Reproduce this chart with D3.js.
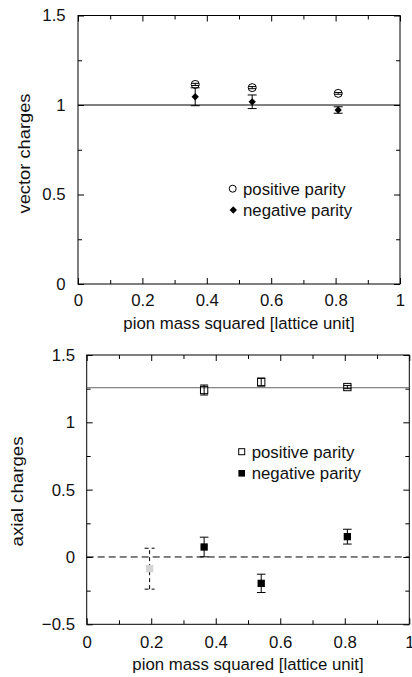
<!DOCTYPE html>
<html lang="en">
<head>
  <meta charset="UTF-8" />
  <title>vector and axial charges</title>
  <style>
    html, body {
      margin: 0;
      padding: 0;
      background: #fff;
    }
    svg {
      display: block;
      font-family: "Liberation Sans", Arial, sans-serif;
    }
    .tick text {
      font-size: 16.8px;
      fill: #111;
    }
  </style>
</head>
<body>
<svg id="chart" width="412" height="677"></svg>

<script src="https://cdn.jsdelivr.net/npm/d3@7"></script>
<script>
  // data
  const pionMass2 = [0.364, 0.541, 0.808];

  const vectorPos = [1.115, 1.097, 1.065];
  const vectorPosErr = [0.006, 0.006, 0.005];
  const vectorNeg = [1.046, 1.018, 0.972];
  const vectorNegErr = [0.05, 0.038, 0.018];

  const axialPos = [1.240, 1.299, 1.262];
  const axialPosErr = [0.037, 0.03, 0.012];
  const axialNeg = [0.074, -0.196, 0.151];
  const axialNegErr = [0.073, 0.068, 0.055];

  // grey point (dashed error bar)
  const extraX = [0.195];
  const extraY = [-0.087];
  const extraErr = [0.152];

  const vectorRef = 1.0;
  const axialRef = 1.257;

  const xTicks = [0, 0.2, 0.4, 0.6, 0.8, 1];
  const xMinor = [0.1, 0.3, 0.5, 0.7, 0.9];
  const yTicksTop = [0, 0.5, 1, 1.5];
  const yMinorTop = [0.25, 0.75, 1.25];
  const yTicksBottom = [-0.5, 0, 0.5, 1, 1.5];
  const yMinorBottom = [-0.25, 0.25, 0.75, 1.25];

  const svg = d3.select("#chart");
  const fmt = d3.format("");

  function panel(opts) {
    const { left, right, top, bottom } = opts.box;
    const x = d3.scaleLinear().domain([0, 1]).range([left, right]);
    const y = d3.scaleLinear().domain(opts.yDomain).range([bottom, top]);
    const g = svg.append("g");

    // ticks on all four sides, pointing inward
    const addAxis = (axis, tx, ty) => {
      const a = g.append("g").attr("transform", `translate(${tx},${ty})`).call(axis);
      a.select(".domain").remove();
      a.selectAll("line").attr("stroke", "#000");
      return a;
    };
    addAxis(d3.axisBottom(x).tickValues(xTicks).tickSize(-6).tickPadding(opts.xPad).tickFormat(fmt), 0, bottom);
    addAxis(d3.axisBottom(x).tickValues(xMinor).tickSize(-4).tickFormat(""), 0, bottom);
    addAxis(d3.axisTop(x).tickValues(xTicks).tickSize(-6).tickFormat(""), 0, top);
    addAxis(d3.axisTop(x).tickValues(xMinor).tickSize(-4).tickFormat(""), 0, top);
    addAxis(d3.axisLeft(y).tickValues(opts.yTicks).tickSize(-6).tickPadding(opts.yPad).tickFormat(fmt), left, 0);
    addAxis(d3.axisLeft(y).tickValues(opts.yMinor).tickSize(-4).tickFormat(""), left, 0);
    addAxis(d3.axisRight(y).tickValues(opts.yTicks).tickSize(-6).tickFormat(""), right, 0);
    addAxis(d3.axisRight(y).tickValues(opts.yMinor).tickSize(-4).tickFormat(""), right, 0);

    g.append("rect")
      .attr("x", left).attr("y", top)
      .attr("width", right - left).attr("height", bottom - top)
      .attr("fill", "none").attr("stroke", "#000").attr("stroke-width", 1);

    // axis titles
    g.append("text")
      .attr("x", (left + right) / 2)
      .attr("y", opts.xLabelY)
      .attr("text-anchor", "middle")
      .attr("font-size", "16.8px")
      .attr("fill", "#111")
      .text("pion mass squared [lattice unit]");

    g.append("text")
      .attr("transform", `translate(${opts.yLabel.x},${opts.yLabel.y}) rotate(-90)`)
      .attr("text-anchor", "middle")
      .attr("font-size", "17px")
      .attr("textLength", opts.yLabel.len)
      .attr("lengthAdjust", "spacingAndGlyphs")
      .attr("fill", "#111")
      .text(opts.yLabel.text);

    return { g, x, y };
  }

  function errorBars(p, xs, ys, errs, cap, dash) {
    const bars = p.g.append("g")
      .attr("stroke", "#000")
      .attr("stroke-width", 1)
      .attr("stroke-dasharray", dash || null);
    xs.forEach((xv, i) => {
      const cx = p.x(xv), y0 = p.y(ys[i] - errs[i]), y1 = p.y(ys[i] + errs[i]);
      bars.append("line").attr("x1", cx).attr("x2", cx).attr("y1", y0).attr("y2", y1);
      bars.append("line").attr("x1", cx - cap).attr("x2", cx + cap).attr("y1", y0).attr("y2", y0);
      bars.append("line").attr("x1", cx - cap).attr("x2", cx + cap).attr("y1", y1).attr("y2", y1);
    });
  }

  function refLine(p, value, color, dash) {
    p.g.append("line")
      .attr("x1", p.x(0)).attr("x2", p.x(1))
      .attr("y1", p.y(value)).attr("y2", p.y(value))
      .attr("stroke", color)
      .attr("stroke-width", 1)
      .attr("stroke-dasharray", dash || null);
  }

  const diamond = d3.symbol().type(d3.symbolDiamond2).size(34);

  // ---------- top panel: vector charges ----------
  const vecPanel = panel({
    box: { left: 78, right: 400, top: 15.5, bottom: 284 },
    yDomain: [0, 1.5],
    yTicks: yTicksTop,
    yMinor: yMinorTop,
    xPad: 10,
    yPad: 12.3,
    xLabelY: 329,
    yLabel: { x: 30, y: 153.5, text: "vector charges", len: 120 }
  });

  refLine(vecPanel, vectorRef, "#000");
  errorBars(vecPanel, pionMass2, vectorNeg, vectorNegErr, 4.5);
  errorBars(vecPanel, pionMass2, vectorPos, vectorPosErr, 4);

  vecPanel.g.selectAll(".vpos")
    .data(pionMass2)
    .enter().append("circle")
    .attr("cx", d => vecPanel.x(d))
    .attr("cy", (d, i) => vecPanel.y(vectorPos[i]))
    .attr("r", 4)
    .attr("fill", "none")
    .attr("stroke", "#000");

  vecPanel.g.selectAll(".vneg")
    .data(pionMass2)
    .enter().append("path")
    .attr("d", diamond)
    .attr("transform", (d, i) => `translate(${vecPanel.x(d)},${vecPanel.y(vectorNeg[i])})`)
    .attr("fill", "#000");

  // legend
  vecPanel.g.append("circle").attr("cx", 232.7).attr("cy", 188.7).attr("r", 3.5)
    .attr("fill", "none").attr("stroke", "#000");
  vecPanel.g.append("path").attr("d", diamond).attr("transform", "translate(233.3,210)").attr("fill", "#000");
  vecPanel.g.append("text").attr("x", 243).attr("y", 194.6).attr("font-size", "16.8px").attr("fill", "#111")
    .text("positive parity");
  vecPanel.g.append("text").attr("x", 243).attr("y", 216).attr("font-size", "16.8px").attr("fill", "#111")
    .text("negative parity");

  // ---------- bottom panel: axial charges ----------
  const axPanel = panel({
    box: { left: 86.7, right: 409.3, top: 355, bottom: 624.3 },
    yDomain: [-0.5, 1.5],
    yTicks: yTicksBottom,
    yMinor: yMinorBottom,
    xPad: 11.8,
    yPad: 11.7,
    xLabelY: 670,
    yLabel: { x: 23, y: 491.5, text: "axial charges", len: 110 }
  });

  refLine(axPanel, axialRef, "#666");
  refLine(axPanel, 0, "#000", "7,4");

  errorBars(axPanel, extraX, extraY, extraErr, 5, "4,3");
  errorBars(axPanel, pionMass2, axialPos, axialPosErr, 4);
  errorBars(axPanel, pionMass2, axialNeg, axialNegErr, 4.3);

  const sq = 7.3;
  axPanel.g.selectAll(".extra")
    .data(extraX)
    .enter().append("rect")
    .attr("x", d => axPanel.x(d) - sq / 2)
    .attr("y", (d, i) => axPanel.y(extraY[i]) - sq / 2)
    .attr("width", sq).attr("height", sq)
    .attr("fill", "#d4d4d4");

  axPanel.g.selectAll(".apos")
    .data(pionMass2)
    .enter().append("rect")
    .attr("x", d => axPanel.x(d) - sq / 2)
    .attr("y", (d, i) => axPanel.y(axialPos[i]) - sq / 2)
    .attr("width", sq).attr("height", sq)
    .attr("fill", "none").attr("stroke", "#000");

  axPanel.g.selectAll(".aneg")
    .data(pionMass2)
    .enter().append("rect")
    .attr("x", d => axPanel.x(d) - sq / 2)
    .attr("y", (d, i) => axPanel.y(axialNeg[i]) - sq / 2)
    .attr("width", sq).attr("height", sq)
    .attr("fill", "#000");

  // legend
  axPanel.g.append("rect").attr("x", 241.7 - 3).attr("y", 451.7 - 3).attr("width", 6).attr("height", 6)
    .attr("fill", "none").attr("stroke", "#000");
  axPanel.g.append("rect").attr("x", 241.7 - 3.3).attr("y", 473.3 - 3.3).attr("width", 6.6).attr("height", 6.6)
    .attr("fill", "#000");
  axPanel.g.append("text").attr("x", 251.7).attr("y", 457.6).attr("font-size", "16.8px").attr("fill", "#111")
    .text("positive parity");
  axPanel.g.append("text").attr("x", 251.7).attr("y", 479.2).attr("font-size", "16.8px").attr("fill", "#111")
    .text("negative parity");
</script>
</body>
</html>
